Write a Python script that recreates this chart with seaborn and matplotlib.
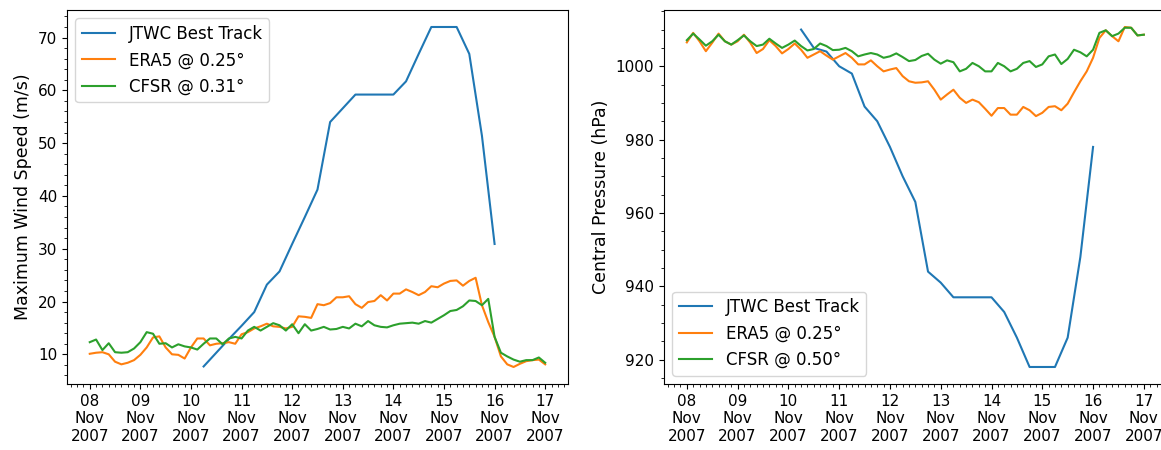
import numpy as np
import pandas as pd
import matplotlib
matplotlib.use("Agg")
import matplotlib.pyplot as plt
import matplotlib.dates as mdates
from matplotlib.ticker import AutoMinorLocator
import seaborn as sns

# --- Data ---
# reanalysis series: 3-hourly, 08 Nov 2007 00Z .. 17 Nov 2007 00Z
reanalysis_times = pd.date_range("2007-11-08 00:00", "2007-11-17 00:00", freq="3h")
# best track: 6-hourly, 10 Nov 06Z .. 16 Nov 00Z
best_track_times = pd.date_range("2007-11-10 06:00", "2007-11-16 00:00", freq="6h")

jtwc_wind = [7.7, 10.3, 12.9, 15.4, 18.0, 23.2, 25.7, 30.9, 36.0, 41.2, 54.0, 56.6,
             59.2, 59.2, 59.2, 59.2, 61.7, 66.9, 72.0, 72.0, 72.0, 66.9, 51.4, 30.9]

era5_wind = [10.1, 10.3, 10.4, 10.0, 8.6, 8.1, 8.4, 8.9,
             9.9, 11.3, 13.2, 13.4, 11.3, 10.0, 9.9, 9.2,
             11.3, 13.0, 13.0, 11.7, 12.0, 12.1, 12.3, 12.0,
             13.8, 14.2, 14.9, 15.3, 15.8, 15.3, 15.2, 14.9,
             15.2, 17.2, 17.1, 16.9, 19.5, 19.3, 19.7, 20.8,
             20.8, 21.0, 19.5, 18.8, 19.9, 20.1, 21.2, 20.2,
             21.5, 21.5, 22.3, 21.8, 21.2, 21.8, 22.9, 22.7,
             23.4, 23.9, 24.0, 23.0, 23.9, 24.5, 19.3, 16.1,
             13.3, 9.6, 8.1, 7.6, 8.2, 8.7, 8.9, 9.0,
             8.1]

cfsr_wind = [12.3, 12.8, 10.8, 12.1, 10.4, 10.3, 10.4, 11.1,
             12.3, 14.2, 13.9, 12.0, 12.1, 11.3, 11.9, 11.5,
             11.3, 10.9, 12.0, 13.0, 13.0, 11.9, 13.0, 13.3,
             13.0, 14.5, 15.2, 14.5, 15.2, 15.9, 15.5, 14.5,
             15.7, 14.0, 15.7, 14.5, 14.8, 15.2, 14.7, 14.8,
             15.2, 14.9, 15.8, 15.3, 16.3, 15.5, 15.2, 15.1,
             15.5, 15.8, 15.9, 16.0, 15.8, 16.3, 16.0, 16.7,
             17.4, 18.2, 18.4, 19.1, 20.2, 20.1, 19.3, 20.5,
             13.3, 10.3, 9.6, 9.0, 8.6, 8.9, 8.9, 9.4,
             8.4]

jtwc_pres = [1010, 1005, 1004, 1000, 998, 989, 985, 978, 970, 963, 944, 941,
             937, 937, 937, 937, 933, 926, 918, 918, 918, 926, 948, 978]

era5_pres = [1006.5, 1009.1, 1006.8, 1004.1, 1006.4, 1008.9, 1006.8, 1005.9,
             1006.8, 1008.6, 1006.4, 1003.6, 1004.7, 1007.1, 1005.5, 1003.5,
             1004.7, 1006.2, 1004.5, 1002.3, 1003.2, 1004.1, 1002.9, 1001.8,
             1002.7, 1003.6, 1002.3, 1000.5, 1000.5, 1001.6, 1000.0, 998.6,
             999.1, 999.5, 997.3, 995.9, 995.5, 995.6, 995.9, 993.6,
             990.9, 992.3, 993.6, 991.4, 990.0, 990.9, 990.2, 988.4,
             986.5, 988.6, 988.6, 986.8, 986.8, 988.9, 988.0, 986.4,
             987.3, 988.9, 989.1, 988.0, 989.8, 992.9, 995.9, 998.6,
             1002.3, 1007.7, 1009.8, 1008.2, 1006.8, 1010.7, 1010.5, 1008.4,
             1008.6]

cfsr_pres = [1007.1, 1008.9, 1007.3, 1005.6, 1006.8, 1008.6, 1006.8, 1005.9,
             1007.1, 1008.4, 1006.8, 1005.5, 1005.9, 1007.5, 1006.2, 1005.0,
             1005.9, 1007.0, 1005.5, 1004.3, 1004.7, 1006.2, 1005.5, 1004.4,
             1004.5, 1005.0, 1004.1, 1002.7, 1003.2, 1003.6, 1003.2, 1002.3,
             1002.7, 1003.5, 1002.5, 1001.4, 1001.7, 1002.8, 1003.4, 1001.8,
             1000.7, 1001.6, 1001.1, 998.6, 999.3, 1000.9, 1000.0, 998.6,
             998.6, 1000.9, 1000.0, 998.6, 999.3, 1000.9, 1001.4, 999.8,
             1000.5, 1002.7, 1003.2, 1000.6, 1002.0, 1004.5, 1003.8, 1002.7,
             1004.5, 1009.1, 1009.8, 1008.2, 1008.9, 1010.5, 1010.5, 1008.4,
             1008.6]

colors = ["#1f77b4", "#ff7f0e", "#2ca02c"]

plt.rcParams.update({"font.family": "DejaVu Sans", "font.size": 11})

fig = plt.figure(figsize=(11.61, 4.5), dpi=100)
ax1 = fig.add_axes([0.0577, 0.1467, 0.4315, 0.8311])
# right panel runs a few pixels past the canvas edge, as in the original
ax2 = fig.add_axes([0.5719, 0.1467, 0.4330, 0.8311])

# --- Wind panel ---
sns.lineplot(x=best_track_times, y=jtwc_wind, ax=ax1, color=colors[0], label="JTWC Best Track")
sns.lineplot(x=reanalysis_times, y=era5_wind, ax=ax1, color=colors[1], label="ERA5 @ 0.25°")
sns.lineplot(x=reanalysis_times, y=cfsr_wind, ax=ax1, color=colors[2], label="CFSR @ 0.31°")
ax1.set_ylabel("Maximum Wind Speed (m/s)", fontsize=12.5)
ax1.legend(loc="upper left", fontsize=12)

# --- Pressure panel ---
sns.lineplot(x=best_track_times, y=jtwc_pres, ax=ax2, color=colors[0], label="JTWC Best Track")
sns.lineplot(x=reanalysis_times, y=era5_pres, ax=ax2, color=colors[1], label="ERA5 @ 0.25°")
sns.lineplot(x=reanalysis_times, y=cfsr_pres, ax=ax2, color=colors[2], label="CFSR @ 0.50°")
ax2.set_ylabel("Central Pressure (hPa)", fontsize=12.5)
ax2.legend(loc="lower left", fontsize=12)

for ax in (ax1, ax2):
    ax.xaxis.set_major_locator(mdates.DayLocator())
    ax.xaxis.set_major_formatter(mdates.DateFormatter("%d\n%b\n%Y"))
    ax.xaxis.set_minor_locator(mdates.HourLocator(byhour=range(0, 24, 3)))
    ax.yaxis.set_minor_locator(AutoMinorLocator())
    ax.set_xlabel("")

fig.savefig("out.png", dpi=100)
